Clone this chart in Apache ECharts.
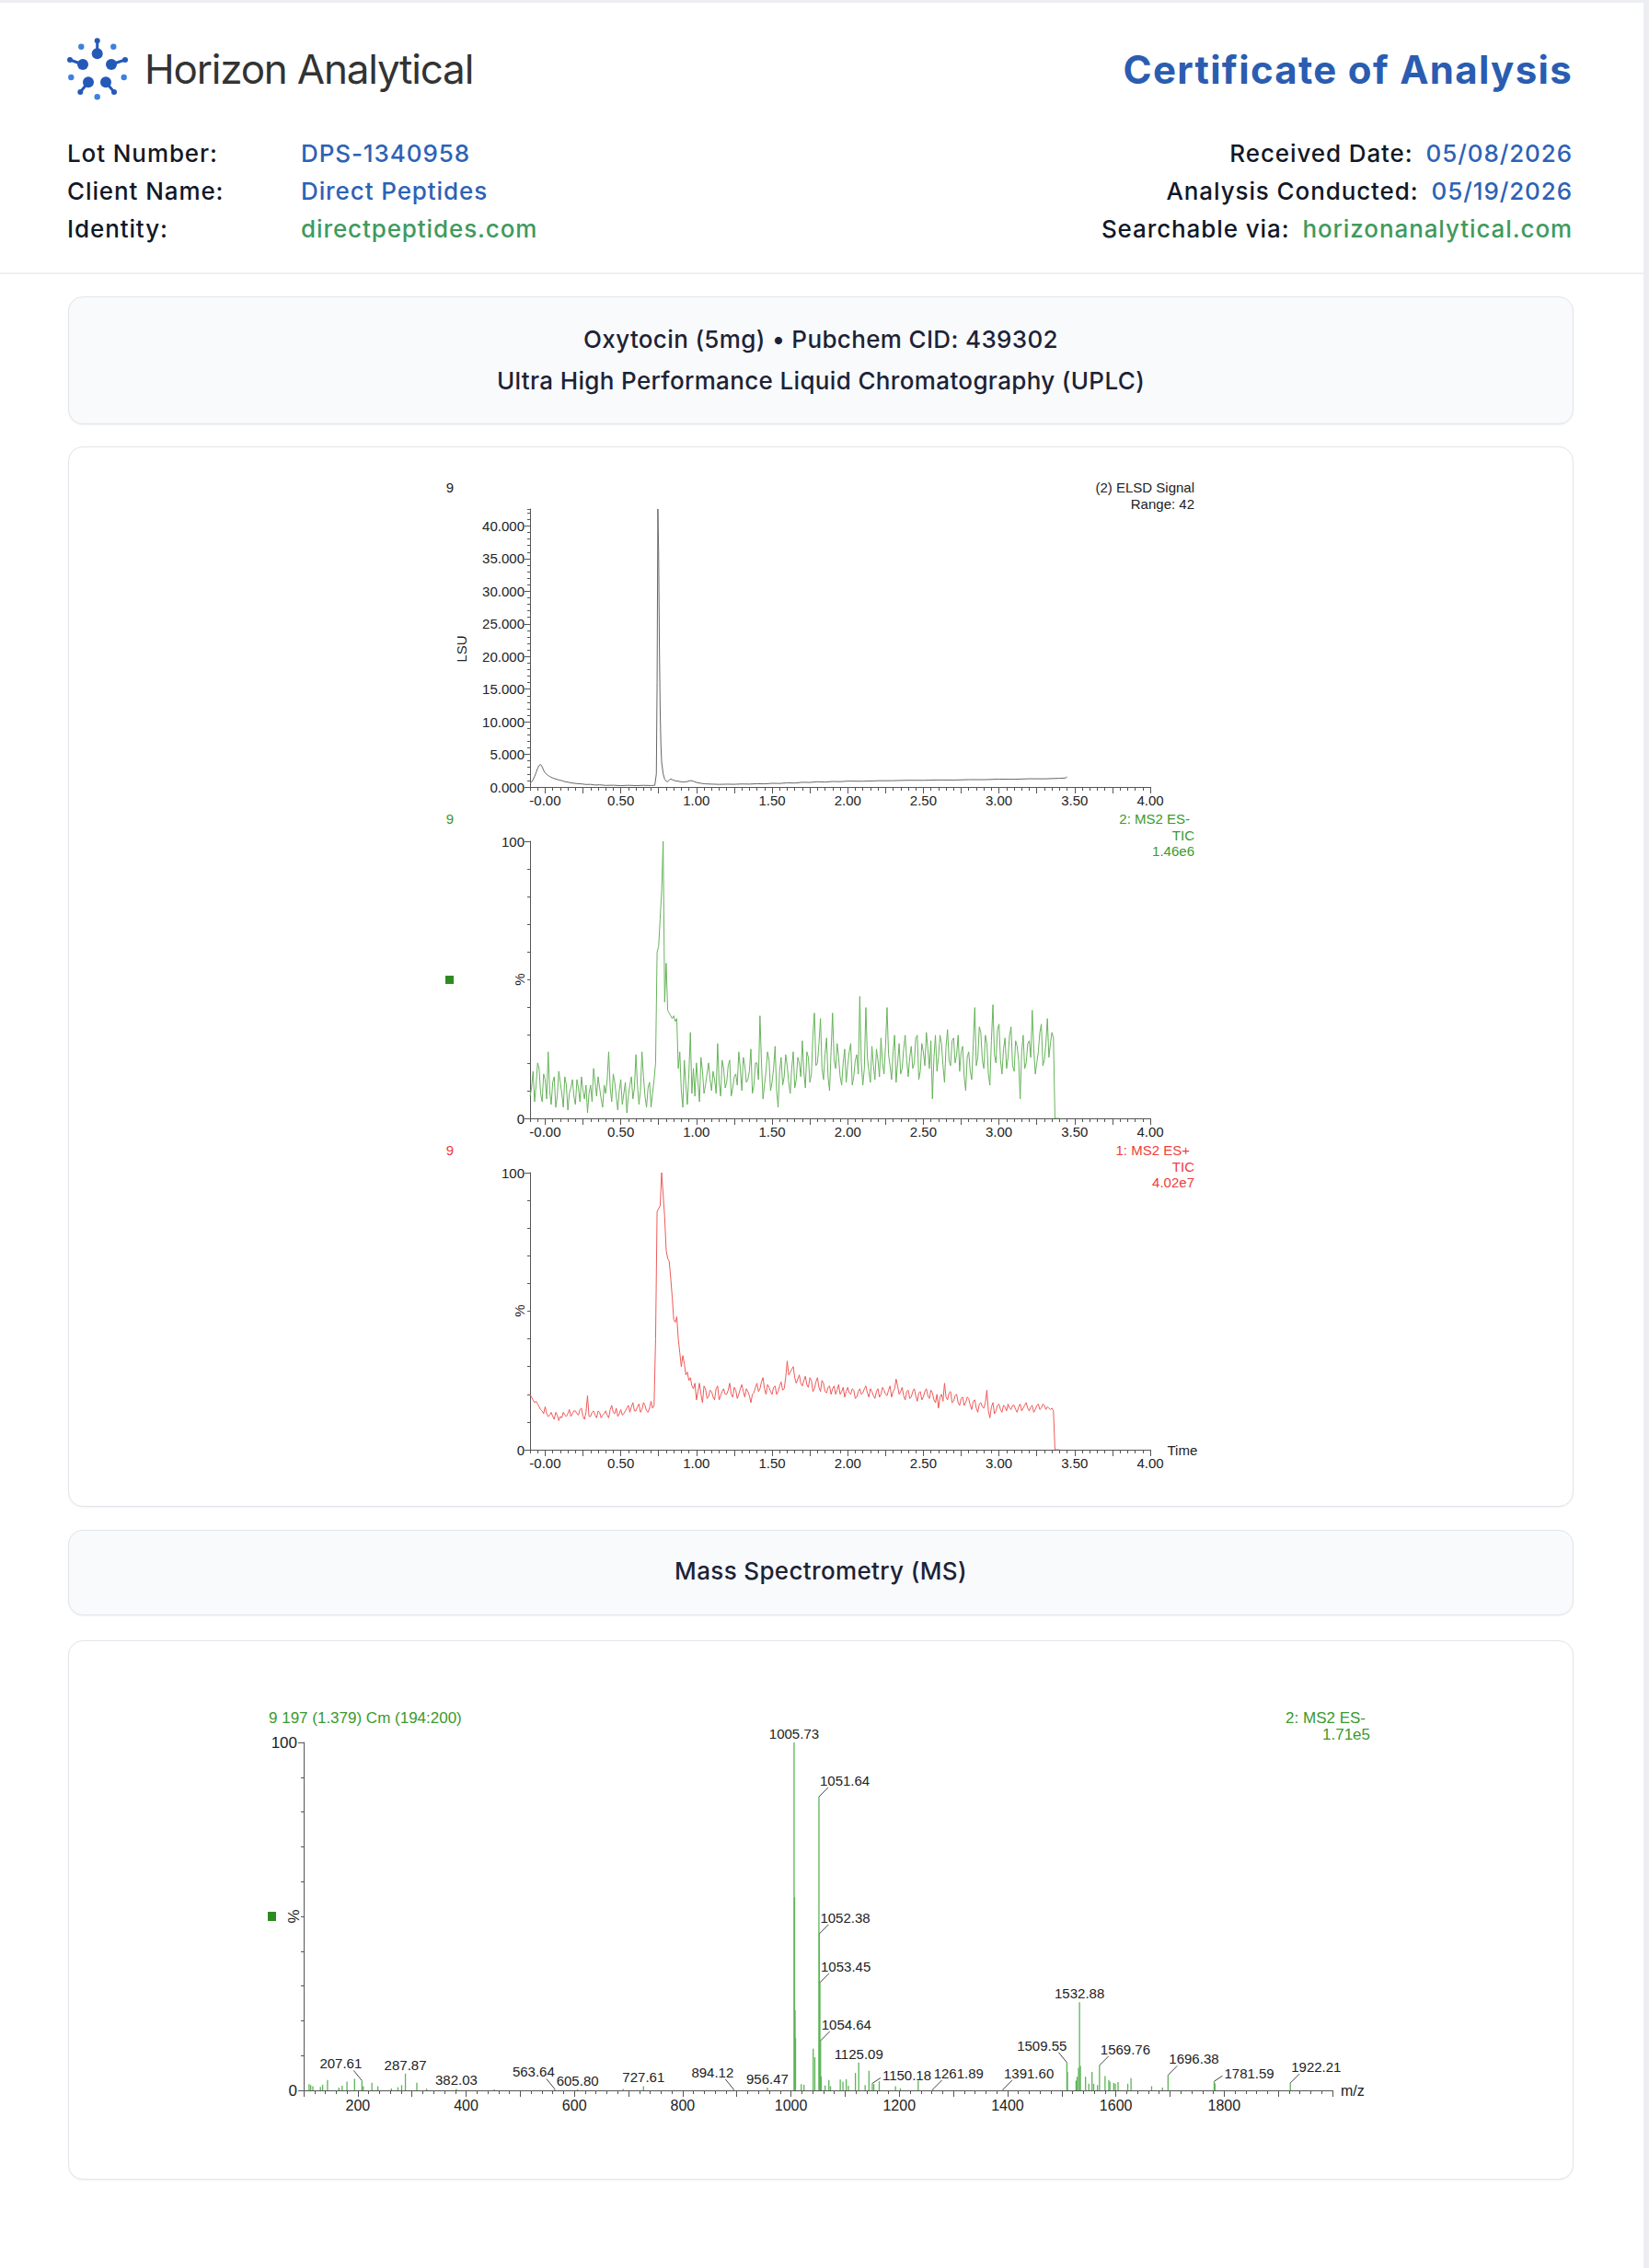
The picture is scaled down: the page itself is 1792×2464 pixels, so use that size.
<!DOCTYPE html>
<html><head><meta charset="utf-8">
<script src="https://cdn.jsdelivr.net/npm/echarts@6/dist/echarts.min.js"></script>
<style>
html,body{margin:0;padding:0;}
body{width:1792px;height:2464px;background:#eceef1;position:relative;overflow:hidden;font-family:Inter,"Noto Sans",sans-serif;}
.page{position:absolute;left:0;top:3px;width:1786px;height:2461px;background:#fff;}
.sep{position:absolute;left:0;top:296px;width:1786px;height:2px;background:#eef0f2;}
.t{position:absolute;white-space:nowrap;line-height:1;}
.lbl{font-size:26px;font-weight:500;color:#111827;letter-spacing:0.9px;}
.val{font-size:26px;font-weight:500;letter-spacing:0.9px;}
.blue{color:#2d62b6;}
.green{color:#3f9a5e;}
.row{display:flex;gap:14px;}
.card{position:absolute;left:74px;width:1636px;box-sizing:border-box;border:1.5px solid #e2e5ea;border-radius:16px;box-shadow:0 1px 2px rgba(16,24,40,0.05);}
.ctext{position:absolute;left:74px;width:1636px;text-align:center;font-size:26px;font-weight:500;color:#1c2336;line-height:1;white-space:nowrap;letter-spacing:0.35px;}
#chart{position:absolute;left:0;top:0;width:1792px;height:2464px;z-index:5;}
</style></head>
<body>
<div class="page"></div>
<div class="sep"></div>
<svg style="position:absolute;left:0;top:0" width="160" height="130">
  <g stroke="#2559b8" stroke-width="3" stroke-linecap="round">
    <line x1="105.7" y1="44.3" x2="105.7" y2="58.3"/>
    <line x1="76" y1="65" x2="90" y2="70"/>
    <line x1="136" y1="65" x2="121" y2="70"/>
    <line x1="87.3" y1="100" x2="96" y2="89.3"/>
    <line x1="124" y1="100" x2="115" y2="89.3"/>
  </g>
  <g fill="#2559b8">
    <circle cx="105.7" cy="44.3" r="3"/><circle cx="105.7" cy="58.3" r="6"/>
    <circle cx="76" cy="65" r="3"/><circle cx="90" cy="70" r="6"/>
    <circle cx="136" cy="65" r="3"/><circle cx="121" cy="70" r="6"/>
    <circle cx="87.3" cy="100" r="3"/><circle cx="96" cy="89.3" r="6"/>
    <circle cx="124" cy="100" r="3"/><circle cx="115" cy="89.3" r="6"/>
  </g>
  <g fill="#3f7fdd">
    <circle cx="88.3" cy="50.7" r="3.2"/><circle cx="123.3" cy="50.7" r="3.2"/>
    <circle cx="77.3" cy="84" r="3.2"/><circle cx="134.7" cy="84" r="3.2"/>
    <circle cx="105.7" cy="105.3" r="3.2"/>
  </g>
</svg>
<div class="t" style="left:157px;top:53px;font-size:44px;font-weight:400;color:#333;letter-spacing:-1.2px;">Horizon Analytical</div>
<div class="t" style="right:83px;top:55px;font-size:42px;font-weight:700;color:#2a5db1;letter-spacing:1.3px;">Certificate of Analysis</div>

<div class="t lbl" style="left:73px;top:154px;">Lot Number:</div>
<div class="t val blue" style="left:327px;top:154px;">DPS-1340958</div>
<div class="t lbl" style="left:73px;top:195px;">Client Name:</div>
<div class="t val blue" style="left:327px;top:195px;">Direct Peptides</div>
<div class="t lbl" style="left:73px;top:236px;">Identity:</div>
<div class="t val green" style="left:327px;top:236px;">directpeptides.com</div>

<div class="t row" style="right:83px;top:154px;"><span class="lbl">Received Date:</span><span class="val blue">05/08/2026</span></div>
<div class="t row" style="right:83px;top:195px;"><span class="lbl">Analysis Conducted:</span><span class="val blue">05/19/2026</span></div>
<div class="t row" style="right:83px;top:236px;"><span class="lbl">Searchable via:</span><span class="val green">horizonanalytical.com</span></div>

<div class="card" style="top:322px;height:139px;background:#f9fafc;"></div>
<div class="ctext" style="top:356px;">Oxytocin (5mg) • Pubchem CID: 439302</div>
<div class="ctext" style="top:401px;">Ultra High Performance Liquid Chromatography (UPLC)</div>
<div class="card" style="top:485px;height:1152px;background:#fff;"></div>
<div class="card" style="top:1662px;height:93px;background:#f9fafc;"></div>
<div class="ctext" style="top:1694px;">Mass Spectrometry (MS)</div>
<div class="card" style="top:1782px;height:586px;background:#fff;"></div>

<div id="chart"></div>
<script>
// ---------- DATA ----------
const elsdTime = [-0.10,-0.09,-0.08,-0.07,-0.06,-0.05,-0.04,-0.03,-0.02,-0.01,
  0.00,0.01,0.02,0.03,0.04,0.05,0.07,0.09,0.11,0.13,
  0.15,0.18,0.21,0.24,0.27,0.30,0.33,0.36,0.40,0.45,
  0.50,0.55,0.60,0.65,0.70,0.725,0.735,0.740,0.745,0.750,
  0.755,0.760,0.765,0.770,0.78,0.79,0.80,0.81,0.82,0.83,
  0.84,0.86,0.88,0.90,0.92,0.94,0.96,0.98,1.00,1.03,
  1.06,1.10,1.15,1.20,1.25,1.30,1.35,1.40,1.45,1.50,
  1.55,1.60,1.65,1.70,1.75,1.80,1.85,1.90,1.95,2.00,
  2.10,2.20,2.30,2.40,2.50,2.60,2.70,2.80,2.90,3.00,
  3.10,3.20,3.30,3.40,3.44,3.45];
const elsdValue = [0.60,0.75,1.10,1.60,2.20,2.85,3.30,3.45,3.10,2.55,
  2.15,1.95,1.75,1.62,1.48,1.38,1.22,1.08,0.98,0.82,
  0.74,0.60,0.52,0.47,0.38,0.40,0.30,0.33,0.24,0.27,
  0.20,0.26,0.21,0.25,0.22,0.26,2.0,16.0,42.6,36.0,
  22.0,12.0,6.5,3.8,2.0,1.2,0.9,0.82,1.05,1.25,
  1.12,0.95,0.88,0.80,0.76,0.84,0.98,0.88,0.70,0.56,
  0.48,0.44,0.40,0.43,0.41,0.46,0.44,0.50,0.48,0.56,
  0.54,0.63,0.60,0.72,0.70,0.80,0.76,0.84,0.82,0.90,
  0.88,0.96,0.97,1.03,1.02,1.08,1.06,1.13,1.12,1.20,
  1.18,1.26,1.25,1.33,1.38,1.55];

const ticTime = [
  -0.10,-0.09,-0.08,-0.07,-0.06,-0.05,-0.04,-0.03,-0.02,-0.01,
  0.00,0.01,0.02,0.03,0.04,0.05,0.06,0.07,0.08,0.09,
  0.10,0.11,0.12,0.13,0.14,0.15,0.16,0.17,0.18,0.19,
  0.20,0.21,0.22,0.23,0.24,0.25,0.26,0.27,0.28,0.29,
  0.30,0.31,0.32,0.33,0.34,0.35,0.36,0.37,0.38,0.39,
  0.40,0.41,0.42,0.43,0.44,0.45,0.46,0.47,0.48,0.49,
  0.50,0.51,0.52,0.53,0.54,0.55,0.56,0.57,0.58,0.59,
  0.60,0.61,0.62,0.63,0.64,0.65,0.66,0.67,0.68,0.69,
  0.70,0.71,0.72,0.73,0.74,0.75,0.76,0.77,0.78,0.79,
  0.80,0.81,0.82,0.83,0.84,0.85,0.86,0.87,0.88,0.89,
  0.90,0.91,0.92,0.93,0.94,0.95,0.96,0.97,0.98,0.99,
  1.00,1.01,1.02,1.03,1.04,1.05,1.06,1.07,1.08,1.09,
  1.10,1.11,1.12,1.13,1.14,1.15,1.16,1.17,1.18,1.19,
  1.20,1.21,1.22,1.23,1.24,1.25,1.26,1.27,1.28,1.29,
  1.30,1.31,1.32,1.33,1.34,1.35,1.36,1.37,1.38,1.39,
  1.40,1.41,1.42,1.43,1.44,1.45,1.46,1.47,1.48,1.49,
  1.50,1.51,1.52,1.53,1.54,1.55,1.56,1.57,1.58,1.59,
  1.60,1.61,1.62,1.63,1.64,1.65,1.66,1.67,1.68,1.69,
  1.70,1.71,1.72,1.73,1.74,1.75,1.76,1.77,1.78,1.79,
  1.80,1.81,1.82,1.83,1.84,1.85,1.86,1.87,1.88,1.89,
  1.90,1.91,1.92,1.93,1.94,1.95,1.96,1.97,1.98,1.99,
  2.00,2.01,2.02,2.03,2.04,2.05,2.06,2.07,2.08,2.09,
  2.10,2.11,2.12,2.13,2.14,2.15,2.16,2.17,2.18,2.19,
  2.20,2.21,2.22,2.23,2.24,2.25,2.26,2.27,2.28,2.29,
  2.30,2.31,2.32,2.33,2.34,2.35,2.36,2.37,2.38,2.39,
  2.40,2.41,2.42,2.43,2.44,2.45,2.46,2.47,2.48,2.49,
  2.50,2.51,2.52,2.53,2.54,2.55,2.56,2.57,2.58,2.59,
  2.60,2.61,2.62,2.63,2.64,2.65,2.66,2.67,2.68,2.69,
  2.70,2.71,2.72,2.73,2.74,2.75,2.76,2.77,2.78,2.79,
  2.80,2.81,2.82,2.83,2.84,2.85,2.86,2.87,2.88,2.89,
  2.90,2.91,2.92,2.93,2.94,2.95,2.96,2.97,2.98,2.99,
  3.00,3.01,3.02,3.03,3.04,3.05,3.06,3.07,3.08,3.09,
  3.10,3.11,3.12,3.13,3.14,3.15,3.16,3.17,3.18,3.19,
  3.20,3.21,3.22,3.23,3.24,3.25,3.26,3.27,3.28,3.29,
  3.30,3.31,3.32,3.33,3.34,3.35,3.36,3.37,3.38,3.39,
  3.40];
const ticNegValue = [
  8,11,17,6,12,20,18,9,6,16,
  14,7,24,10,5,13,15,4,8,17,
  13,9,4,15,12,3,9,11,14,8,
  5,14,11,6,15,10,7,12,2,9,
  12,6,18,13,8,15,11,7,4,12,
  9,14,24,11,6,16,13,8,3,10,
  14,5,9,13,2,8,12,15,7,11,
  23,12,5,10,24,15,8,4,11,13,
  4,9,14,20,60,62,72,82,100,42,
  56,39,38,37,36,37,35,36,18,24,
  10,4,21,12,5,16,31,9,18,8,
  20,13,6,22,17,9,12,16,20,14,
  10,17,14,9,27,13,8,21,18,11,
  13,19,21,8,11,15,16,12,24,18,
  10,22,19,13,14,17,25,9,12,20,
  20,14,37,20,7,12,17,24,21,10,
  13,18,26,10,4,17,22,12,15,23,
  19,13,9,18,24,11,14,22,20,15,
  28,17,11,24,22,13,16,30,38,19,
  20,27,36,18,14,23,29,15,10,24,
  38,21,18,27,22,15,12,20,25,13,
  19,24,27,12,15,21,23,16,44,20,
  12,18,40,22,17,13,26,19,14,25,
  21,15,29,20,16,26,40,23,19,14,
  24,30,13,20,27,16,18,25,30,21,
  15,22,26,18,20,29,30,14,17,27,
  24,19,31,25,18,28,7,22,30,17,
  22,30,27,19,13,26,32,21,19,28,
  29,20,23,30,17,24,26,15,10,22,
  24,17,14,27,40,19,22,33,31,21,
  18,30,27,16,12,28,41,23,20,32,
  34,21,16,25,29,18,22,30,33,19,
  17,28,26,21,7,24,30,18,20,27,
  28,22,39,25,16,20,24,31,34,19,
  21,27,36,22,27,31,29,0,0,0,
  0];
const ticPosValue = [
  20,19,18,17,17.5,16.5,15.5,14.5,14,13,
  15.5,13,12,12.5,13.5,12,11,13.5,12.5,10.5,
  12,11.5,13.5,12.5,12,13,14.5,12,13,14,
  14,13,12.5,14.5,15,12,11,13.5,19.5,12,
  12,13.5,14,12.5,11.5,14,13.5,11.5,12.5,13,
  14,12.5,11.5,14.5,16,13.5,13,15,12,13,
  14.5,12.5,13,14,15,16,13.5,15.5,17,14,
  14,15.5,16.5,13.5,14.5,17,16,14,13.5,15,
  17.5,15,16,40,86,87,88,100,92,84,
  72,69,68,62,55,47,46,48,40,35,
  30,34,31,27,28,25,26,23,22,24,
  18,21,24,20,17,23,22,18.5,19,21.5,
  21,19,18,22,23,18,19.5,21,22,20,
  20,21.5,24,20,19,22.5,21.5,18.5,20,22,
  23.5,21,19,22,21,19.5,17,20,20.5,22.5,
  24,21,22,24.5,26,22,20,23.5,22.5,21,
  20,22.5,23,20,21,23,24.5,21.5,22,26,
  32,27,28,29,30,26,24,25.5,27,24,
  23,25,26.5,23.5,22.5,26,25,21,22,24.5,
  26,22.5,21,25,24,21,20.5,22.5,23,20,
  22,23,20,21.5,23.5,20,21,22.5,19,21,
  22.5,20.5,20,22,21.5,18.5,19,21,22,20,
  20.5,22,23,20.5,19,22,21,19.5,18.5,21,
  22,19,20,22.5,21.5,20,19.5,21.5,23,19,
  21,22,25.5,23,20,21,22.5,19.5,18,21,
  21.5,18.5,19,21,22,19.5,17.5,20.5,21,18,
  19,21,22,19.5,18.5,21.5,20.5,18,17,20,
  15,19,20,17.5,24,19,18,20.5,21,17,
  17.5,19.5,20,17,16,18.5,19,16,17,19,
  18.5,16,14.5,17.5,18,15,13.5,16.5,17,15.5,
  15,17,21.5,14,11.5,15.5,17,13,14,16,
  16.5,14.5,13.5,16,15.5,14,16.5,15,14.5,16,
  16,14.5,13.5,15.5,16.5,14,15,16,17,15,
  14,15.5,16,13.5,14.5,16,16.5,14.5,15,16.5,
  16,14.5,15.5,15,14.5,15,14,0,0,0,
  0];

const timeTickValues = [0,0.5,1,1.5,2,2.5,3,3.5,4];
const timeTickLabels = ['-0.00','0.50','1.00','1.50','2.00','2.50','3.00','3.50','4.00'];
const timeMajorTicks = [0,0.25,0.5,0.75,1,1.25,1.5,1.75,2,2.25,2.5,2.75,3,3.25,3.5,3.75,4];
const elsdTickValues = [0,5,10,15,20,25,30,35,40];
const elsdTickLabels = ['0.000','5.000','10.000','15.000','20.000','25.000','30.000','35.000','40.000'];
const pctTickValues = [0,100];
const pctTickLabels = ['0','100'];

const msMz = [110,113,117,131,135,144,165,171,180,194,
  207.61,210,226,237,262,274,281,287.87,309,327,
  382.03,452,563.64,605.80,690,727.61,894.12,956.47,1005.73,1006.6,
  1007.5,1008.4,1019,1024,1041,1044,1051.64,1052.38,1053.45,1054.64,
  1055.8,1063,1070,1073,1091,1096,1102,1106,1119,1125.09,
  1137,1144,1150.18,1153,1163,1193,1202,1235,1261.89,1391.60,
  1509.55,1510.6,1526.5,1528.5,1531.0,1532.88,1534.5,1544,1550,1556,
  1559,1566,1569.76,1580,1587,1589,1596,1599,1604,1622,
  1628,1666,1686,1696.38,1781.59,1783,1922.21];
const msIntensity = [1.8,1.5,1.2,1.0,1.6,3.0,0.8,1.3,2.5,3.3,
  2.8,1.2,2.2,1.2,0.5,0.9,1.5,4.8,2.2,0.5,
  0.4,0.3,0.4,0.3,0.4,1.2,0.3,0.8,100,55.5,
  23,15,1.8,1.6,12,9.5,84.4,45,31,14.3,
  4,1.4,3.0,1.2,3.1,2.5,3.2,1.3,5,8,
  1.5,5.6,2.0,1.8,2.6,1.2,0.6,2.8,0.3,0.3,
  8,5.3,2.8,3.9,6.5,25.3,7,3.9,1.9,5.3,
  1.9,1.5,7.2,4.1,3.0,2.5,2.1,1.9,2.4,1.9,
  3.5,1.2,0.8,4.4,2.6,2.0,2.1];
const msLabelMz = [207.61,287.87,382.03,563.64,605.80,727.61,894.12,956.47,1005.73,1051.64,
  1052.38,1053.45,1054.64,1125.09,1150.18,1261.89,1391.60,1509.55,1532.88,1569.76,
  1696.38,1781.59,1922.21];
const mzTickValues = [200,400,600,800,1000,1200,1400,1600,1800];
const mzTickLabels = ['200','400','600','800','1000','1200','1400','1600','1800'];
const mzMajorTicks = [100,200,300,400,500,600,700,800,900,1000,1100,1200,1300,1400,1500,1600,1700,1800,1900,2000];

// label placement styles (c: centred above, r: upper-right leader, l: upper-left leader, r2: right, short leader)
const msLabelSide = ['l','c','c','l','c','c','l','c','c','r',
  'r','r','r','c','r2','r','r','l','c','r',
  'r','r2','r'];

// ---------- CHART ----------
const FONT = '"Liberation Sans", Arial, sans-serif';
const AX = '#555';
const TXT = '#222';
const GREEN_T = '#3a9a2c';
const RED_T = '#f03c3c';

function pick(values, labels) {
  return function (v) {
    for (let i = 0; i < values.length; i++) if (Math.abs(values[i] - v) < 1e-6) return labels[i];
    return '';
  };
}

const chromBoxes = [{top:553,height:302},{top:914,height:301},{top:1274,height:301}];
const grid = chromBoxes.map(b => ({left:576, top:b.top, width:674, height:b.height, containLabel:false, outerBoundsMode:'none'}));
grid.push({left:330, top:1893, width:1118, height:378, containLabel:false, outerBoundsMode:'none'});

const xAxis = [], yAxis = [];
chromBoxes.forEach((b, g) => {
  xAxis.push({type:'value', gridIndex:g, min:-0.1, max:4.0, position:'bottom',
    axisLine:{show:true, onZero:false, lineStyle:{color:AX, width:1}},
    axisTick:{show:true, customValues:timeMajorTicks, length:7, lineStyle:{color:AX}},
    axisLabel:{show:true, customValues:timeTickValues, formatter:pick(timeTickValues, timeTickLabels), margin:7, fontSize:15, color:TXT, fontFamily:FONT},
    splitLine:{show:false},
    name: g === 2 ? 'Time' : '', nameLocation:'end', nameGap:8,
    nameTextStyle:{fontSize:15, color:TXT, fontFamily:FONT, verticalAlign:'middle'}});
  xAxis.push({type:'value', gridIndex:g, min:-0.1, max:4.0, interval:0.05, position:'bottom',
    axisLine:{show:false, onZero:false}, axisTick:{show:true, length:4, lineStyle:{color:AX}},
    axisLabel:{show:false}, splitLine:{show:false}});
  const isElsd = g === 0;
  const yMax = isElsd ? 42.6 : 100;
  const vals = isElsd ? elsdTickValues : pctTickValues;
  const labs = isElsd ? elsdTickLabels : pctTickLabels;
  yAxis.push({type:'value', gridIndex:g, min:0, max:yMax, position:'left',
    axisLine:{show:true, onZero:false, lineStyle:{color:AX, width:1}},
    axisTick:{show:true, customValues:vals, length:6, lineStyle:{color:AX}},
    axisLabel:{show:true, customValues:vals, formatter:pick(vals, labs), margin:6, fontSize:15, color:TXT, fontFamily:FONT},
    splitLine:{show:false}});
  yAxis.push({type:'value', gridIndex:g, min:0, max:yMax, interval: isElsd ? 1 : 10, position:'left',
    axisLine:{show:false, onZero:false}, axisTick:{show:true, length:3, lineStyle:{color:AX}},
    axisLabel:{show:false}, splitLine:{show:false}});
});
// spectrum axes
xAxis.push({type:'value', gridIndex:3, min:100, max:2000, position:'bottom',
  axisLine:{show:true, onZero:false, lineStyle:{color:AX, width:1}},
  axisTick:{show:true, customValues:mzMajorTicks, length:7, lineStyle:{color:AX}},
  axisLabel:{show:true, customValues:mzTickValues, formatter:pick(mzTickValues, mzTickLabels), margin:8, fontSize:16, color:TXT, fontFamily:FONT},
  splitLine:{show:false},
  name:'m/z', nameLocation:'end', nameGap:9, nameTextStyle:{fontSize:16, color:TXT, fontFamily:FONT, verticalAlign:'middle'}});
xAxis.push({type:'value', gridIndex:3, min:100, max:2000, interval:20, position:'bottom',
  axisLine:{show:false, onZero:false}, axisTick:{show:true, length:4, lineStyle:{color:AX}},
  axisLabel:{show:false}, splitLine:{show:false}});
yAxis.push({type:'value', gridIndex:3, min:0, max:100, position:'left',
  axisLine:{show:true, onZero:false, lineStyle:{color:AX, width:1}},
  axisTick:{show:true, customValues:pctTickValues, length:6, lineStyle:{color:AX}},
  axisLabel:{show:true, customValues:pctTickValues, formatter:pick(pctTickValues, pctTickLabels), margin:7, fontSize:17, color:TXT, fontFamily:FONT},
  splitLine:{show:false}});
yAxis.push({type:'value', gridIndex:3, min:0, max:100, interval:10, position:'left',
  axisLine:{show:false, onZero:false}, axisTick:{show:true, length:3, lineStyle:{color:AX}},
  axisLabel:{show:false}, splitLine:{show:false}});

function stick(params, api) {
  const top = api.coord([api.value(0), api.value(1)]);
  const base = api.coord([api.value(0), 0]);
  return {type:'line', shape:{x1:base[0], y1:base[1], x2:top[0], y2:top[1]},
    style:{stroke:'#5cb457', lineWidth:1.3}};
}
function peakLabel(params, api) {
  const m = api.value(0);
  const p = api.coord([m, api.value(1)]);
  const side = msLabelSide[api.value(2)];
  const text = m.toFixed(2);
  const font = '15px ' + FONT;
  const kids = [];
  let tx, ty, align;
  if (side === 'c') { tx = p[0]; ty = p[1] - 9.5; align = 'center'; }
  else if (side === 'r') {
    kids.push({type:'line', shape:{x1:p[0], y1:p[1], x2:p[0] + 10, y2:p[1] - 10}, style:{stroke:'#444', lineWidth:1}});
    tx = p[0] + 1; ty = p[1] - 17.5; align = 'left';
  } else if (side === 'r2') {
    kids.push({type:'line', shape:{x1:p[0], y1:p[1], x2:p[0] + 9, y2:p[1] - 6}, style:{stroke:'#444', lineWidth:1}});
    tx = p[0] + 11; ty = p[1] - 8.5; align = 'left';
  } else {
    kids.push({type:'line', shape:{x1:p[0], y1:p[1], x2:p[0] - 9, y2:p[1] - 11}, style:{stroke:'#444', lineWidth:1}});
    tx = p[0]; ty = p[1] - 18.5; align = 'right';
  }
  kids.push({type:'text', x:tx, y:ty, style:{text:text, fill:TXT, font:font, align:align, verticalAlign:'middle'}});
  return {type:'group', children:kids};
}

function txt(x, y, text, o) {
  o = o || {};
  return {type:'text', x:x, y:y, rotation:o.rot || 0, silent:true,
    style:{text:text, fill:o.color || TXT, font:(o.size || 15) + 'px ' + FONT, align:o.align || 'left', verticalAlign:'middle'}};
}
const graphics = [
  txt(489, 529, '9', {align:'center'}),
  txt(1298, 529, '(2) ELSD Signal', {align:'right'}),
  txt(1298, 547, 'Range: 42', {align:'right'}),
  txt(501, 705, 'LSU', {align:'center', rot:Math.PI / 2}),
  txt(489, 889, '9', {align:'center', color:GREEN_T}),
  txt(1293, 889, '2: MS2 ES-', {align:'right', color:GREEN_T}),
  txt(1298, 907, 'TIC', {align:'right', color:GREEN_T}),
  txt(1298, 924, '1.46e6', {align:'right', color:GREEN_T}),
  {type:'rect', shape:{x:484, y:1060, width:9, height:9}, style:{fill:'#2e8b22'}, silent:true},
  txt(564, 1064, '%', {align:'center', rot:Math.PI / 2}),
  txt(489, 1249, '9', {align:'center', color:RED_T}),
  txt(1293, 1249, '1: MS2 ES+', {align:'right', color:RED_T}),
  txt(1298, 1267, 'TIC', {align:'right', color:RED_T}),
  txt(1298, 1284, '4.02e7', {align:'right', color:RED_T}),
  txt(564, 1424, '%', {align:'center', rot:Math.PI / 2}),
  txt(292, 1866, '9 197 (1.379) Cm (194:200)', {color:GREEN_T, size:17}),
  txt(1484, 1866, '2: MS2 ES-', {align:'right', color:GREEN_T, size:17}),
  txt(1489, 1884, '1.71e5', {align:'right', color:GREEN_T, size:17}),
  {type:'rect', shape:{x:291, y:2077, width:9, height:10}, style:{fill:'#2e8b22'}, silent:true},
  txt(319, 2082, '%', {align:'center', rot:Math.PI / 2, size:17})
];

const chart = echarts.init(document.getElementById('chart'), null, {renderer:'svg', width:1792, height:2464});
chart.setOption({
  animation:false,
  backgroundColor:'transparent',
  textStyle:{fontFamily:FONT},
  grid:grid, xAxis:xAxis, yAxis:yAxis,
  graphic:{elements:graphics},
  series:[
    {type:'line', xAxisIndex:0, yAxisIndex:0, data:elsdTime.map((t, i) => [t, elsdValue[i]]),
      symbol:'none', lineStyle:{color:'#666', width:1}, silent:true},
    {type:'line', xAxisIndex:2, yAxisIndex:2, data:ticTime.map((t, i) => [t, ticNegValue[i]]),
      symbol:'none', lineStyle:{color:'#68b35c', width:1}, silent:true},
    {type:'line', xAxisIndex:4, yAxisIndex:4, data:ticTime.map((t, i) => [t, ticPosValue[i]]),
      symbol:'none', lineStyle:{color:'#ef5a5a', width:1}, silent:true},
    {type:'custom', xAxisIndex:6, yAxisIndex:6, coordinateSystem:'cartesian2d',
      data:msMz.map((m, i) => [m, msIntensity[i]]), encode:{x:0, y:1}, renderItem:stick, silent:true},
    {type:'custom', xAxisIndex:6, yAxisIndex:6, coordinateSystem:'cartesian2d',
      data:msLabelMz.map((m, i) => [m, msIntensity[msMz.indexOf(m)], i]), encode:{x:0, y:1}, renderItem:peakLabel, silent:true, z:5}
  ]
});
</script>
</body></html>
